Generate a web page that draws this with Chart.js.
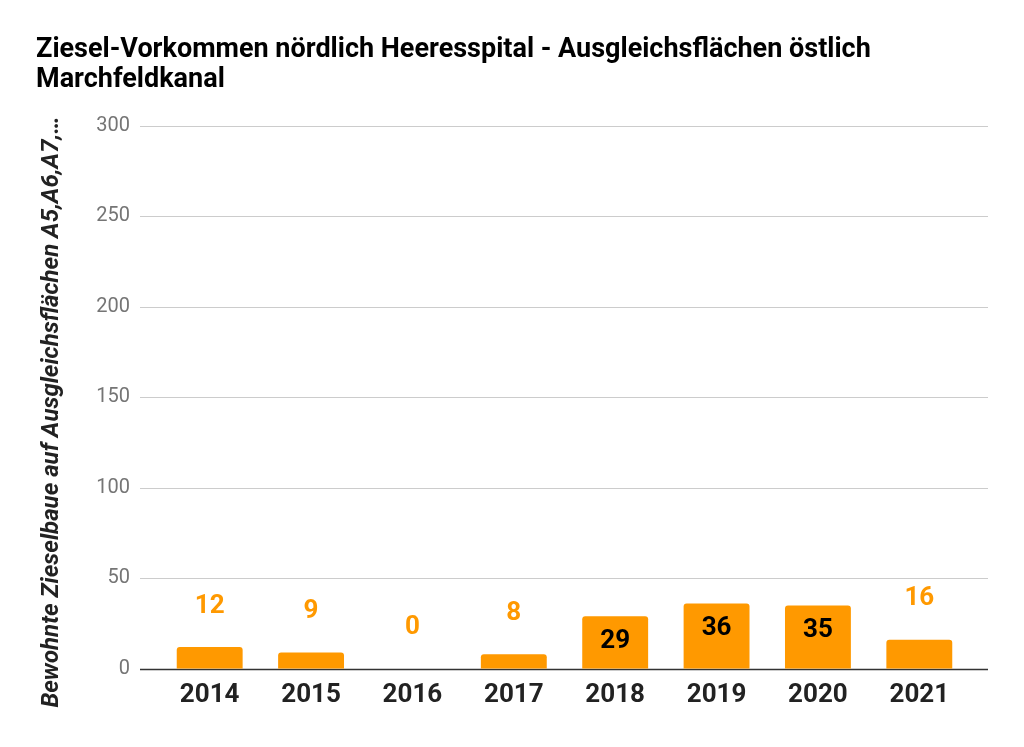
<!DOCTYPE html>
<html>
<head>
<meta charset="utf-8">
<script src="https://cdn.jsdelivr.net/npm/chart.js@4.4.1/dist/chart.umd.min.js"></script>
<style>
html,body{margin:0;padding:0;background:#fff;}
#wrap{width:1024px;height:747px;position:relative;}
</style>
</head>
<body>
<div id="wrap"><canvas id="c"></canvas></div>
<script>
const categories = ["2014","2015","2016","2017","2018","2019","2020","2021"];
const values = [12, 9, 0, 8, 29, 36, 35, 16];
const yTicks = [0, 50, 100, 150, 200, 250, 300];
const titleLines = ["Ziesel-Vorkommen nördlich Heeresspital - Ausgleichsflächen östlich", "Marchfeldkanal"];
const yTitle = "Bewohnte Zieselbaue auf Ausgleichsflächen A5,A6,A7,…";

const ORANGE = "#FF9900";
const FONT = "Roboto, 'Noto Sans', sans-serif";

const gridPlugin = {
  id: "extGrid",
  beforeDatasetsDraw(chart) {
    const {ctx, chartArea, scales} = chart;
    const y = scales.y;
    const left = chartArea.left - 19;
    const right = chartArea.right + 18;
    ctx.save();
    yTicks.forEach(t => {
      const py = Math.round(y.getPixelForValue(t)) + 0.5;
      ctx.beginPath();
      ctx.strokeStyle = t === 0 ? "#333333" : "#cccccc";
      ctx.lineWidth = t === 0 ? 1.5 : 1;
      ctx.moveTo(left, py);
      ctx.lineTo(right, py);
      ctx.stroke();
    });
    ctx.restore();
  }
};

const labelPlugin = {
  id: "valLabels",
  afterDatasetsDraw(chart) {
    const {ctx} = chart;
    const meta = chart.getDatasetMeta(0);
    const y = chart.scales.y;
    ctx.save();
    ctx.font = "bold 26px " + FONT;
    ctx.textAlign = "center";
    ctx.textBaseline = "middle";
    meta.data.forEach((bar, i) => {
      const v = values[i];
      const top = y.getPixelForValue(v);
      const base = y.getPixelForValue(0);
      if (base - top > 45) {
        ctx.fillStyle = "#000000";
        ctx.fillText(String(v), bar.x, top + 25);
      } else {
        ctx.fillStyle = ORANGE;
        ctx.fillText(String(v), bar.x, top - 41);
      }
    });
    ctx.restore();
  }
};

new Chart(document.getElementById("c"), {
  type: "bar",
  data: {
    labels: categories,
    datasets: [{
      data: values,
      backgroundColor: ORANGE,
      borderRadius: {topLeft: 3, topRight: 3, bottomLeft: 0, bottomRight: 0},
      borderSkipped: "bottom",
      barPercentage: 0.65,
      categoryPercentage: 1.0
    }]
  },
  options: {
    responsive: true,
    maintainAspectRatio: false,
    animation: false,
    devicePixelRatio: 1,
    layout: {padding: {left: 36, right: 54, top: 30, bottom: 25}},
    plugins: {
      legend: {display: false},
      tooltip: {enabled: false},
      title: {
        display: true,
        text: titleLines,
        align: "start",
        color: "#000000",
        font: {family: FONT, size: 27, weight: "bold", lineHeight: 1.085},
        padding: {top: 6, bottom: 31}
      }
    },
    scales: {
      x: {
        grid: {display: false, drawTicks: false},
        border: {display: false},
        ticks: {
          color: "#222222",
          font: {family: FONT, size: 26, weight: "bold"},
          padding: 11
        }
      },
      y: {
        min: 0,
        max: 300,
        afterBuildTicks(scale) { scale.ticks = yTicks.map(v => ({value: v})); },
        afterFit(scale) { scale.width = 123; },
        grid: {display: false, drawTicks: false},
        border: {display: false},
        ticks: {
          color: "#757575",
          font: {family: FONT, size: 20},
          padding: 29
        },
        title: {
          display: true,
          text: yTitle + "     ",
          color: "#222222",
          font: {family: FONT, size: 24, weight: "bold", style: "italic"},
          padding: {top: 2, bottom: 0}
        }
      }
    }
  },
  plugins: [gridPlugin, labelPlugin]
});
</script>
</body>
</html>
